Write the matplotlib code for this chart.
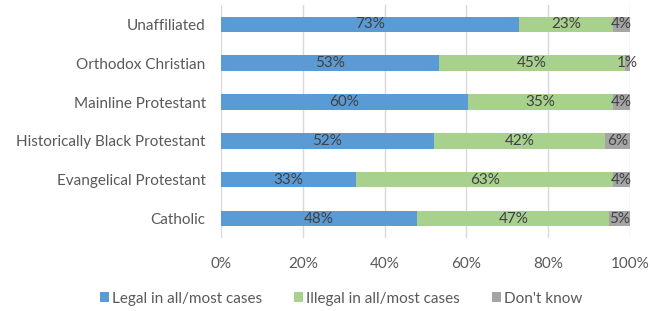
import matplotlib
matplotlib.use('Agg')
import matplotlib.pyplot as plt
import numpy as np

groups = ['Catholic', 'Evangelical Protestant', 'Historically Black Protestant',
          'Mainline Protestant', 'Orthodox Christian', 'Unaffiliated']
legal = [48, 33, 52, 60.4, 53.4, 73]
illegal = [47, 63, 42, 35.4, 45.4, 23]
dont_know = [5, 4, 6, 4.2, 1.2, 4]
series_names = ['Legal in all/most cases', 'Illegal in all/most cases', "Don't know"]
colors = ['#5B9BD5', '#A9D18E', '#A5A5A5']
xticks = [0, 20, 40, 60, 80, 100]

plt.rcParams['font.family'] = ['Lato', 'DejaVu Sans']
text_color = '#595959'

fig = plt.figure(figsize=(6.5, 3.11), dpi=100)
ax = fig.add_axes([0.34, 0.235, 0.629, 0.749])

y = np.arange(len(groups))
left = np.zeros(len(groups))
for vals, name, col in zip([legal, illegal, dont_know], series_names, colors):
    vals = np.array(vals, dtype=float)
    ax.barh(y, vals, left=left, height=0.4, color=col, label=name, zorder=2)
    for yi, l, v in zip(y, left, vals):
        ax.text(l + v / 2, yi, '%d%%' % round(v), ha='center', va='center',
                fontsize=11, color='#404040', zorder=3)
    left = left + vals

ax.set_xlim(0, 100)
ax.set_ylim(-0.5, len(groups) - 0.5)
ax.set_yticks(y)
ax.set_yticklabels(groups, fontsize=11, color=text_color)
ax.set_xticks(xticks)
ax.set_xticklabels(['%d%%' % t for t in xticks], fontsize=11, color=text_color)
ax.tick_params(length=0)
ax.tick_params(axis='y', pad=11)
ax.tick_params(axis='x', pad=14)
ax.grid(axis='x', color='#D9D9D9', linewidth=1, zorder=0)
for s in ax.spines.values():
    s.set_visible(False)

ax.legend(loc='center', bbox_to_anchor=(0.525, 0.04), bbox_transform=fig.transFigure,
          ncol=3, frameon=False, fontsize=11, handlelength=0.6, handleheight=0.6,
          handletextpad=0.2, columnspacing=2.1, labelcolor=text_color)

fig.savefig('out.png', dpi=100)
